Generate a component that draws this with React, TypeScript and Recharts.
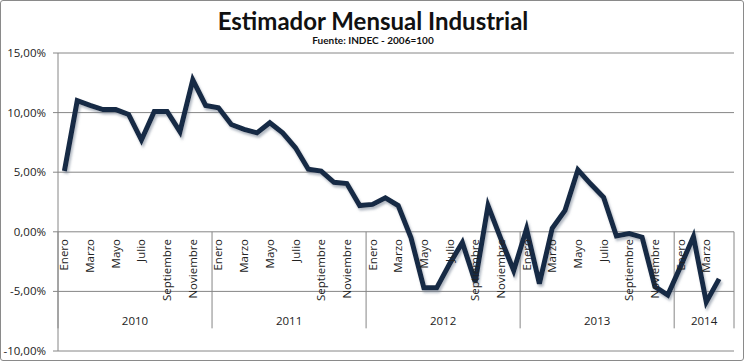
import {
  LineChart,
  Line,
  XAxis,
  YAxis,
  CartesianGrid,
  ReferenceLine,
  ReferenceArea,
} from "recharts";

const months = [
  "Enero", "Febrero", "Marzo", "Abril", "Mayo", "Junio",
  "Julio", "Agosto", "Septiembre", "Octubre", "Noviembre", "Diciembre",
];
const years = ["2010", "2011", "2012", "2013", "2014"];
const monthsPerYear = [12, 12, 12, 12, 4];

// variación interanual (%)
const values = [
  5.1, 11.0, 10.6, 10.25, 10.25, 9.85, 7.7, 10.1, 10.1, 8.4, 12.75, 10.6,
  10.4, 9.0, 8.6, 8.3, 9.15, 8.3, 7.05, 5.25, 5.1, 4.15, 4.05, 2.2,
  2.3, 2.85, 2.2, -0.5, -4.7, -4.7, -2.7, -0.9, -4.2, 2.2, -0.6, -3.25,
  0.25, -4.35, 0.3, 1.8, 5.2, 4.0, 2.9, -0.35, -0.15, -0.45, -4.6, -5.3,
  -2.9, -0.4, -5.9, -3.95,
];
const yTicks = [-10, -5, 0, 5, 10, 15];

const data = values.map((v, i) => ({ idx: i, month: months[i % 12], value: v }));

// year blocks: start/end in index units
const yearBlocks = years.map((y, k) => {
  const start = monthsPerYear.slice(0, k).reduce((a, b) => a + b, 0) - 0.5;
  return { year: y, x1: start, x2: start + monthsPerYear[k] };
});
const xMax = 52.16;
yearBlocks[yearBlocks.length - 1].x2 = xMax;

const monthTicks = data.filter((d) => d.idx % 12 % 2 === 0).map((d) => d.idx);

const W = 744;
const H = 361;
const TOP = 53;
const BOTTOM = 353;
const yMin = -10;
const yMax = 15;
const zeroY = TOP + ((yMax - 0) / (yMax - yMin)) * (BOTTOM - TOP);
const FONT = "'Open Sans', sans-serif";

const MonthTick = (props: any) => {
  const { x, payload } = props;
  const y = zeroY + 6;
  return (
    <text
      x={x}
      y={y}
      dy="0.35em"
      transform={`rotate(-90 ${x} ${y})`}
      textAnchor="end"
      fontSize={11.5}
      fontFamily={FONT}
      fill="#222"
    >
      {months[payload.value % 12]}
    </text>
  );
};

const fmt = (v: number) => v.toFixed(2).replace(".", ",") + "%";

export default function App() {
  return (
    <div
      style={{
        position: "absolute",
        left: 0,
        top: 0,
        width: W,
        height: H,
        boxSizing: "border-box",
        border: "1px solid #8a8a8a",
        borderRadius: 3,
        background: "#fff",
      }}
    >
      <div
        style={{
          position: "absolute",
          left: 0,
          width: W,
          top: 5,
          textAlign: "center",
          fontFamily: "Lato, sans-serif",
          fontWeight: 700,
          fontSize: 24,
          color: "#111",
        }}
      >
        Estimador Mensual Industrial
      </div>
      <div
        style={{
          position: "absolute",
          left: 0,
          width: W,
          top: 33,
          textAlign: "center",
          fontFamily: "Lato, sans-serif",
          fontWeight: 700,
          fontSize: 10,
          color: "#111",
        }}
      >
        Fuente: INDEC - 2006=100
      </div>
      <LineChart
        width={W - 2}
        height={H - 2}
        data={data}
        style={{ position: "absolute", left: -1, top: -1 }}
        margin={{ top: TOP, right: 8, bottom: 7, left: 0 }}
      >
        <defs>
          <filter id="lineShadow" x="-5%" y="-10%" width="110%" height="125%">
            <feDropShadow dx="1.5" dy="2.5" stdDeviation="1.3" floodColor="#6f7d90" floodOpacity="0.55" />
          </filter>
        </defs>
        <CartesianGrid vertical={false} stroke="#868686" />
        <XAxis
          dataKey="idx"
          type="number"
          domain={[-0.5, xMax]}
          allowDataOverflow
          ticks={monthTicks}
          interval={0}
          height={1}
          axisLine={false}
          tickLine={false}
          tick={(p: any) => <MonthTick {...p} />}
        />
        <YAxis
          type="number"
          domain={[yMin, yMax]}
          ticks={yTicks}
          width={58}
          tickFormatter={fmt}
          tickSize={5}
          tickMargin={7}
          stroke="#868686"
          tick={{ fill: "#222", fontSize: 11.5, fontFamily: FONT }}
        />
        {yearBlocks.map((b) => (
          <ReferenceArea
            key={b.year}
            x1={b.x1}
            x2={b.x2}
            y1={-8.1}
            y2={0}
            fillOpacity={0}
            strokeOpacity={0}
            label={{
              value: b.year,
              position: "insideBottom",
              offset: 3,
              fill: "#222",
              fontSize: 11.5,
              fontFamily: FONT,
            }}
          />
        ))}
        {yearBlocks.map((b) => (
          <ReferenceLine
            key={"s" + b.year}
            segment={[
              { x: b.x1, y: 0 },
              { x: b.x1, y: -8.1 },
            ]}
            stroke="#868686"
          />
        ))}
        <ReferenceLine
          segment={[
            { x: xMax, y: 0 },
            { x: xMax, y: -8.1 },
          ]}
          stroke="#868686"
        />
        <Line
          dataKey="value"
          stroke="#172a45"
          strokeWidth={5}
          dot={false}
          isAnimationActive={false}
          filter="url(#lineShadow)"
        />
      </LineChart>
    </div>
  );
}
